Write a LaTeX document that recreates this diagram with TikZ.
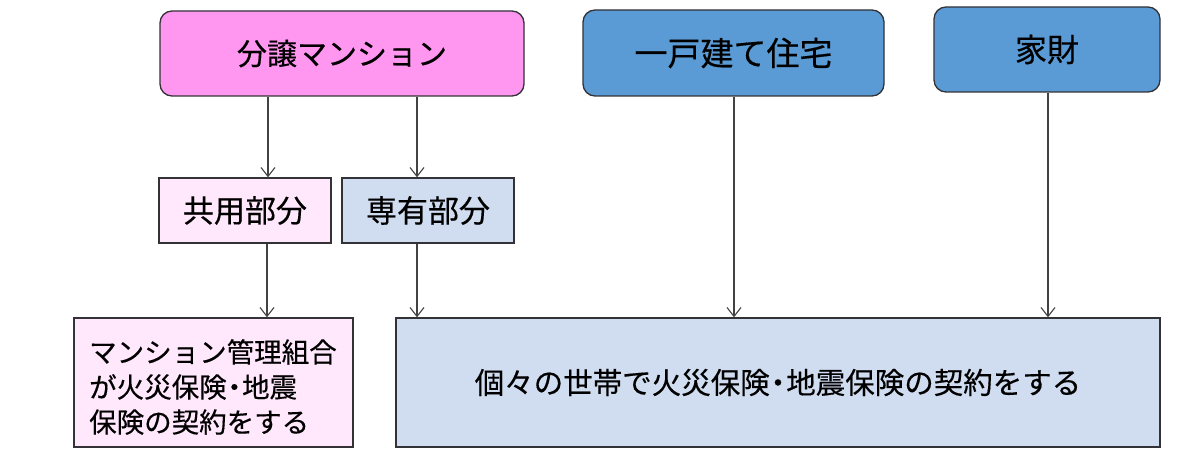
\documentclass[tikz,border=0pt]{standalone}
\usepackage{fontspec}
\setmainfont{Noto Sans CJK JP}[FakeBold=0.4]
\usetikzlibrary{arrows.meta}
\definecolor{pinkA}{RGB}{255,150,240}
\definecolor{pinkB}{RGB}{255,232,252}
\definecolor{blueA}{RGB}{91,155,213}
\definecolor{blueB}{RGB}{208,220,240}
\definecolor{edge}{RGB}{50,50,55}
\newcommand{\ndot}{\kern-0.22em・\kern-0.22em}
\tikzset{
  topbox/.style={draw=edge, line width=1.3pt, rounded corners=12pt, font=\fontsize{31}{36}\selectfont, inner sep=0pt},
  midbox/.style={draw=edge, line width=1.3pt, font=\fontsize{31}{36}\selectfont, inner sep=0pt},
  lowbox/.style={draw=edge, line width=1.3pt, inner sep=0pt},
  arr/.style={draw=edge!80!gray, line width=1.1pt, -{Straight Barb[length=9pt,width=14pt,line width=1.1pt]}}
}
\begin{document}
\begin{tikzpicture}[x=1pt,y=-1pt]
\useasboundingbox (0,0) rectangle (1200,468);
\node[topbox, fill=pinkA, minimum width=364pt, minimum height=85pt, font=\fontsize{30}{36}\selectfont] (bunjo) at (342,53.5) {分譲マンション};
\node[topbox, fill=blueA, minimum width=301pt, minimum height=86pt, font=\fontsize{33}{38}\selectfont] (ikko) at (733.5,53) {一戸建て住宅};
\node[topbox, fill=blueA, minimum width=226pt, minimum height=85pt, font=\fontsize{32}{38}\selectfont] (kazai) at (1047,49.5) {家財};
\node[midbox, fill=pinkB, minimum width=172pt, minimum height=65pt] (kyoyo) at (245,210.5) {共用部分};
\node[midbox, fill=blueB, minimum width=172pt, minimum height=65pt] (senyu) at (428,210.5) {専有部分};
\node[lowbox, fill=pinkB, minimum width=279pt, minimum height=129pt] (kanri) at (213.5,382.5) {};
\node[anchor=west, align=left, font=\fontsize{27.5}{35}\selectfont, inner sep=0pt] (kanritext) at (89,387) {マンション管理組合\\が火災保険\ndot 地震\\保険の契約をする};
\node[lowbox, fill=blueB, minimum width=764pt, minimum height=129pt, font=\fontsize{29.5}{34}\selectfont] (kobetsu) at (778,382.5) {個々の世帯で火災保険\ndot 地震保険の契約をする};
\draw[arr] (bunjo.south -| 268,0) -- (kyoyo.north -| 268,0);
\draw[arr] (bunjo.south -| 417,0) -- (senyu.north -| 417,0);
\draw[arr] (kyoyo.south -| 267,0) -- (kanri.north -| 267,0);
\draw[arr] (senyu.south -| 417,0) -- (kobetsu.north -| 417,0);
\draw[arr] (ikko.south -| 734,0) -- (kobetsu.north -| 734,0);
\draw[arr] (kazai.south -| 1048,0) -- (kobetsu.north -| 1048,0);
\end{tikzpicture}
\end{document}
